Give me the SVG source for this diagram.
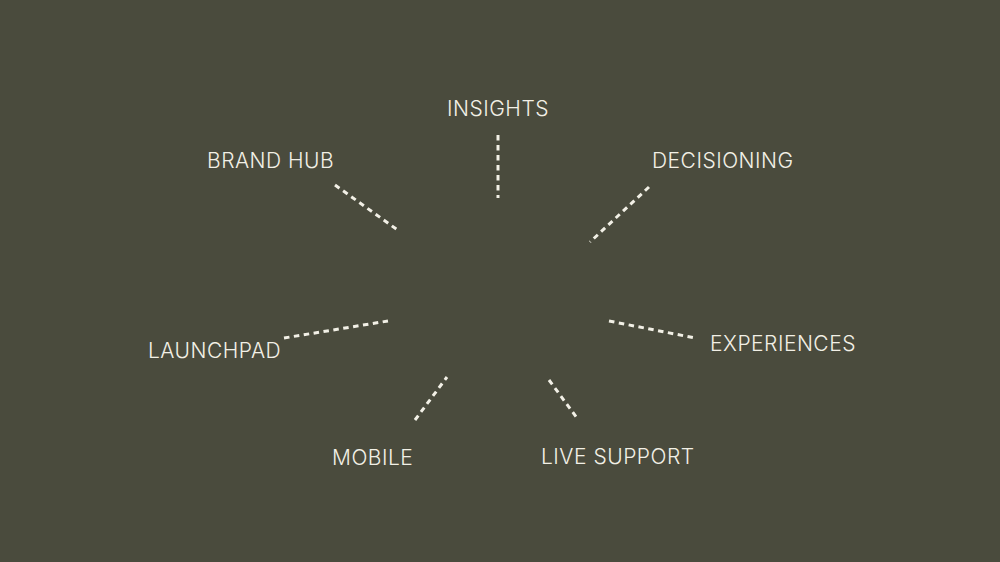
<svg xmlns="http://www.w3.org/2000/svg" width="1000" height="562" viewBox="0 0 1000 562">
<style>
.bg{fill:#4a4b3d}
.lbl{font-family:Inter,"Liberation Sans",sans-serif;font-size:21px;font-weight:300;letter-spacing:0.5px;fill:#f2f0e6}
.c{stroke:#f2f0e6;stroke-width:3;stroke-dasharray:5.5 4.5;fill:none}
</style>
<rect class="bg" width="1000" height="562"/>
<g id="connectors">
<line class="c" x1="498" y1="135" x2="498" y2="198"/>
<line class="c" x1="335" y1="185" x2="399" y2="231"/>
<line class="c" x1="649" y1="187" x2="590" y2="242"/>
<line class="c" x1="284" y1="338" x2="388" y2="321"/>
<line class="c" x1="609" y1="321" x2="695" y2="338"/>
<line class="c" x1="415" y1="420" x2="447" y2="377"/>
<line class="c" x1="549" y1="380" x2="577" y2="418"/>
</g>
<g id="insights"><text class="lbl" x="447" y="116">INSIGHTS</text></g>
<g id="brandhub"><text class="lbl" x="207" y="168">BRAND HUB</text></g>
<g id="decisioning"><text class="lbl" x="652" y="168">DECISIONING</text></g>
<g id="launchpad"><text class="lbl" x="148" y="358">LAUNCHPAD</text></g>
<g id="experiences"><text class="lbl" x="710" y="351">EXPERIENCES</text></g>
<g id="mobile"><text class="lbl" x="332" y="465">MOBILE</text></g>
<g id="livesupport"><text class="lbl" x="541" y="464">LIVE SUPPORT</text></g>
</svg>
